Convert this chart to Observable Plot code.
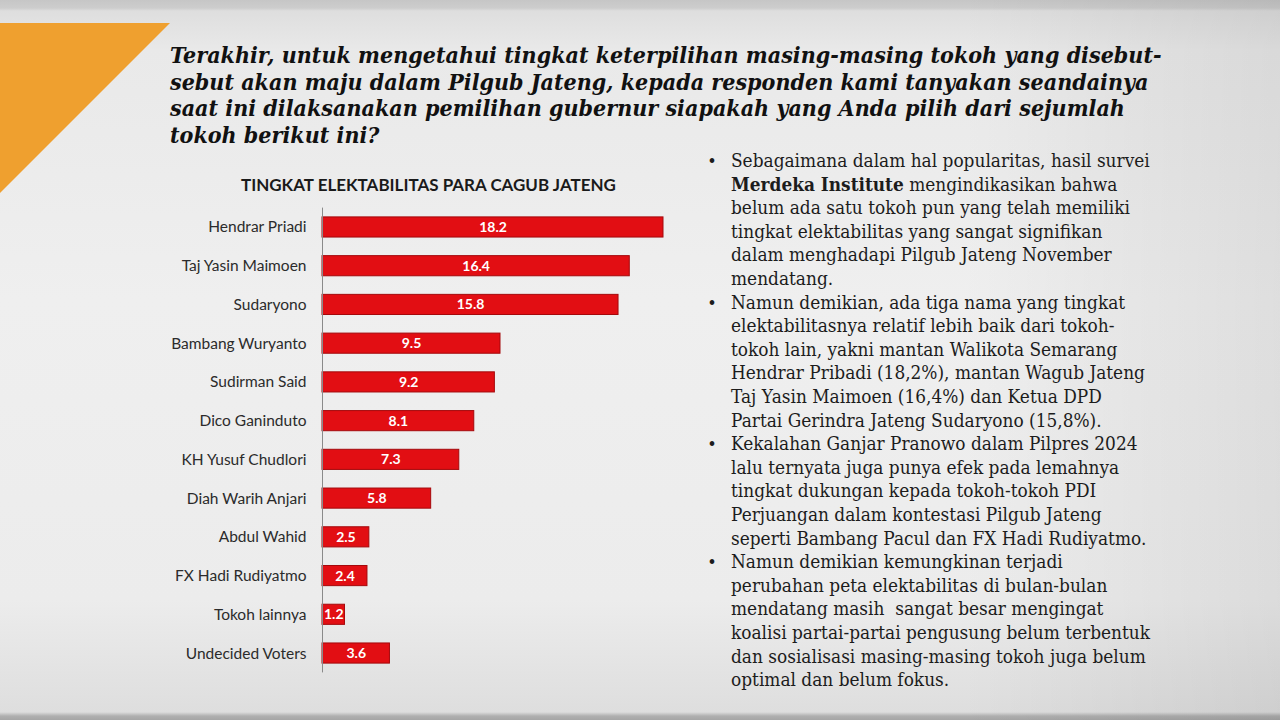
<!DOCTYPE html>
<html>
<head>
<meta charset="utf-8">
<script src="https://cdn.jsdelivr.net/npm/d3@7"></script>
<script src="https://cdn.jsdelivr.net/npm/@observablehq/plot@0.6"></script>
<style>
  html, body { margin: 0; padding: 0; }
  body {
    width: 1280px; height: 720px; overflow: hidden; position: relative;
    background:
      linear-gradient(to right, rgba(0,0,0,0) 0%, rgba(0,0,0,0) 75%, rgba(0,0,0,0.07) 100%),
      linear-gradient(to bottom, #c6c6c6 0px, #cdcdcd 8px, #dedede 11px, #e9e9e9 50px, #efefef 300px, #ececec 600px, #dedede 712px, #b0b0b0 716px, #a6a6a6 720px);
  }
  #deco { position: absolute; left: 0; top: 0; z-index: 0; }
  #chart { position: absolute; left: 160px; top: 200px; z-index: 1; }
</style>
</head>
<body>
<svg id="deco" width="1280" height="720"></svg>
<div id="chart"></div>
<script>
// Survey results: electability of the Central Java governor candidates (%)
const candidates = [
  "Hendrar Priadi", "Taj Yasin Maimoen", "Sudaryono", "Bambang Wuryanto",
  "Sudirman Said", "Dico Ganinduto", "KH Yusuf Chudlori", "Diah Warih Anjari",
  "Abdul Wahid", "FX Hadi Rudiyatmo", "Tokoh lainnya", "Undecided Voters"
];
const electability = [18.2, 16.4, 15.8, 9.5, 9.2, 8.1, 7.3, 5.8, 2.5, 2.4, 1.2, 3.6];

const chartTitle = "TINGKAT ELEKTABILITAS PARA CAGUB JATENG";

const questionLines = [
  "Terakhir, untuk mengetahui tingkat keterpilihan masing-masing tokoh yang disebut-",
  "sebut akan maju dalam Pilgub Jateng, kepada responden kami tanyakan seandainya",
  "saat ini dilaksanakan pemilihan gubernur siapakah yang Anda pilih dari sejumlah",
  "tokoh berikut ini?"
];

// Commentary bullets, one array of lines per bullet; **...** marks bold text
const noteBullets = [
  [
    "Sebagaimana dalam hal popularitas, hasil survei",
    "**Merdeka Institute** mengindikasikan bahwa",
    "belum ada satu tokoh pun yang telah memiliki",
    "tingkat elektabilitas yang sangat signifikan",
    "dalam menghadapi Pilgub Jateng November",
    "mendatang."
  ],
  [
    "Namun demikian, ada tiga nama yang tingkat",
    "elektabilitasnya relatif lebih baik dari tokoh-",
    "tokoh lain, yakni mantan Walikota Semarang",
    "Hendrar Pribadi (18,2%), mantan Wagub Jateng",
    "Taj Yasin Maimoen (16,4%) dan Ketua DPD",
    "Partai Gerindra Jateng Sudaryono (15,8%)."
  ],
  [
    "Kekalahan Ganjar Pranowo dalam Pilpres 2024",
    "lalu ternyata juga punya efek pada lemahnya",
    "tingkat dukungan kepada tokoh-tokoh PDI",
    "Perjuangan dalam kontestasi Pilgub Jateng",
    "seperti Bambang Pacul dan FX Hadi Rudiyatmo."
  ],
  [
    "Namun demikian kemungkinan terjadi",
    "perubahan peta elektabilitas di bulan-bulan",
    "mendatang masih  sangat besar mengingat",
    "koalisi partai-partai pengusung belum terbentuk",
    "dan sosialisasi masing-masing tokoh juga belum",
    "optimal dan belum fokus."
  ]
];

const rows = candidates.map((name, i) => ({name, value: electability[i]}));

// Horizontal bar chart
const chart = Plot.plot({
  width: 520,
  height: 480,
  marginLeft: 162,
  marginRight: 17,
  marginTop: 7.6,
  marginBottom: 7.6,
  style: {background: "transparent", fontFamily: "Lato, sans-serif", fontSize: "16px", color: "#2b2b2b", overflow: "visible"},
  x: {domain: [0, 18.2], axis: null},
  y: {domain: candidates, paddingInner: 0.48, paddingOuter: 0.24, round: false, label: null},
  marks: [
    Plot.axisY({tickSize: 0, tickPadding: 16, fill: "#2b2b2b", fontSize: 15.5, label: null}),
    Plot.barX(rows, {x: "value", y: "name", fill: "#e20e13", stroke: "#a5090c", strokeWidth: 1}),
    Plot.text(rows, {x: d => d.value / 2, y: "name", text: d => d.value.toFixed(1), fill: "#fff", fontWeight: "bold", fontSize: 14}),
    Plot.ruleX([0], {stroke: "#8a8a8a", strokeWidth: 1})
  ]
});
document.getElementById("chart").appendChild(chart);

// Slide decoration and text
const deco = d3.select("#deco");
deco.append("polygon")
  .attr("points", "0,23 170,23 0,193")
  .attr("fill", "#efa02f");

// Fit a group of lines so its first line spans the given width
function fitLines(sel, x, baselines, targetWidth) {
  const first = sel.nodes()[0];
  const s = targetWidth / first.getComputedTextLength();
  sel.attr("transform", (d, i) => `translate(${x},${baselines[i]}) scale(${s},1)`);
}

const qBase = questionLines.map((d, i) => 63 + i * 26.7);
const qText = deco.selectAll("text.q").data(questionLines).join("text")
  .attr("class", "q")
  .attr("font-family", "'DejaVu Serif', serif")
  .attr("font-weight", "bold")
  .attr("font-style", "italic")
  .attr("font-size", 22.5)
  .attr("fill", "#111")
  .text(d => d);
fitLines(qText, 170, qBase, 992);

const ct = deco.append("text")
  .attr("font-family", "Lato, sans-serif")
  .attr("font-weight", "bold")
  .attr("font-size", 17)
  .attr("fill", "#1a1a1a")
  .text(chartTitle);
ct.attr("transform", `translate(241,191) scale(${375 / ct.node().getComputedTextLength()},1)`);

// Commentary
const noteLines = [];
noteBullets.forEach(b => b.forEach((line, j) => noteLines.push({line, bullet: j === 0})));
const nBase = noteLines.map((d, i) => 167 + i * 23.6);
const nText = deco.selectAll("text.n").data(noteLines).join("text")
  .attr("class", "n")
  .attr("font-family", "'DejaVu Serif', serif")
  .attr("font-size", 18)
  .attr("fill", "#1c1c1c");
nText.each(function(d) {
  const t = d3.select(this);
  d.line.split(/(\*\*[^*]+\*\*)/).filter(p => p.length).forEach(p => {
    const bold = p.startsWith("**");
    t.append("tspan")
      .attr("font-weight", bold ? "bold" : null)
      .attr("xml:space", "preserve")
      .text(bold ? p.slice(2, -2) : p);
  });
});
fitLines(nText, 731, nBase, 419);

deco.selectAll("text.b").data(noteLines.map((d, i) => ({...d, y: nBase[i]})).filter(d => d.bullet))
  .join("text")
  .attr("class", "b")
  .attr("x", 712)
  .attr("y", d => d.y)
  .attr("text-anchor", "middle")
  .attr("font-family", "'DejaVu Serif', serif")
  .attr("font-size", 16)
  .attr("fill", "#1c1c1c")
  .text("•");
</script>
</body>
</html>
